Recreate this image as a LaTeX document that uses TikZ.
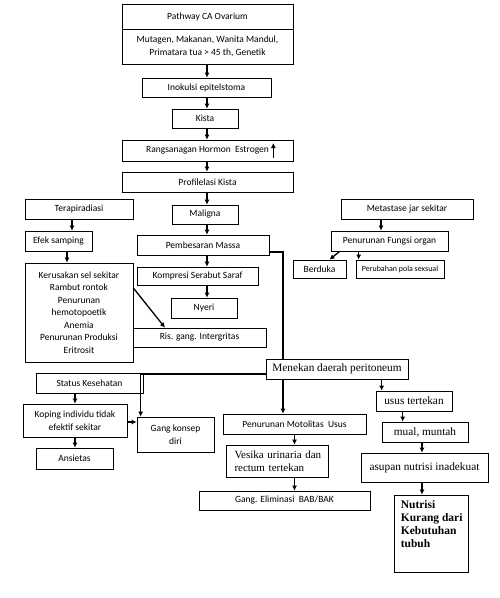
\documentclass[tikz,border=0pt]{standalone}
\usepackage{fontspec}
\setmainfont{Liberation Serif}
\setsansfont{Carlito}
\usetikzlibrary{arrows.meta}

\begin{document}
\begin{tikzpicture}[x=1pt,y=-1pt,
        box/.style={draw, fill=white, line width=0.7pt, inner sep=1pt, align=center,
            font=\fontsize{9.5}{12.5}\selectfont\sffamily},
        sbox/.style={box, font=\fontsize{11.3}{13}\selectfont\rmfamily},
        arr/.style={line width=1.3pt, -{Latex[length=5pt,width=5pt]}},
        link/.style={line width=1.3pt}]
        \useasboundingbox (0,0) rectangle (500,598);
        \coordinate (spine) at (207,0);

        % main column
        \node[box, minimum width=171, minimum height=25] (ttl) at (207.5,16.5) {Pathway CA Ovarium};
        \node[box, minimum width=171, minimum height=35] (cause) at (207.5,46.5)
            {Mutagen, Makanan, Wanita Mandul,\\ Primatara tua > 45 th, Genetik};
        \node[box, minimum width=129, minimum height=19] (inok) at (206.5,87.5) {Inokulsi epitelstoma};
        \node[box, minimum width=66, minimum height=19] (kista) at (205,118.5) {Kista};
        \node[box, minimum width=171, minimum height=21] (rangs) at (207.5,150.5) {Rangsanagan Hormon~ Estrogen};
        \node[box, minimum width=171, minimum height=20] (prof) at (207.5,182) {Profilelasi Kista};
        \node[box, minimum width=66, minimum height=19] (maligna) at (205,214.5) {Maligna};
        \node[box, minimum width=132, minimum height=20] (pemb) at (203,245) {Pembesaran Massa};
        \node[box, minimum width=121, minimum height=18] (kompresi) at (197.5,276) {Kompresi Serabut Saraf};
        \node[box, minimum width=66, minimum height=20] (nyeri) at (204,308) {Nyeri};
        \node[box, minimum width=133, minimum height=19] (ris) at (199.5,337.5) {Ris. gang. Intergritas};

        % left column
        \node[box, minimum width=108, minimum height=20] (terapi) at (79,209) {Terapiradiasi};
        \node[box, minimum width=67, minimum height=20] (efek) at (58.5,241) {Efek samping};
        \node[box, minimum width=108, minimum height=99] (kerusakan) at (79,312.5)
            {Kerusakan sel sekitar\\ Rambut rontok\\ Penurunan\\ hemotopoetik\\ Anemia\\
             Penurunan Produksi\\ Eritrosit};
        \node[box, minimum width=107, minimum height=20] (status) at (89.5,383) {Status Kesehatan};
        \node[box, minimum width=104, minimum height=33] (koping) at (75,420.5) {Koping individu tidak\\ efektif sekitar};
        \node[box, minimum width=77, minimum height=21] (ansietas) at (74.5,458.5) {Ansietas};
        \node[box, minimum width=77, minimum height=35] (konsep) at (175.5,434.5) {Gang konsep\\ diri};

        % right column
        \node[box, minimum width=132, minimum height=20] (metastase) at (407,209) {Metastase jar sekitar};
        \node[box, minimum width=117, minimum height=20] (fungsi) at (389.5,241) {Penurunan Fungsi organ};
        \node[box, minimum width=53, minimum height=18] (berduka) at (319.5,269) {Berduka};
        \node[box, minimum width=88, minimum height=18, font=\fontsize{8}{10}\selectfont\sffamily] (perubahan) at (400,269)
            {Perubahan pola sexsual};
        \node[sbox, minimum width=142, minimum height=20] (menekan) at (337,369) {Menekan daerah peritoneum};
        \node[sbox, minimum width=76, minimum height=20] (usus) at (414,401) {usus tertekan};
        \node[box, minimum width=143, minimum height=20] (motilitas) at (294.5,424) {Penurunan Motolitas~ Usus};
        \node[sbox, minimum width=86, minimum height=20] (mual) at (425,432) {mual, muntah};
        \node[sbox, minimum width=102, minimum height=32, text width=97, align=left,
            font=\fontsize{11}{12.5}\selectfont\rmfamily] (vesika) at (277,461)
            {\hspace*{6pt}Vesika urinaria dan\\ \hspace*{6pt}rectum tertekan};
        \node[sbox, minimum width=127, minimum height=29] (asupan) at (424.5,467.5) {asupan nutrisi inadekuat};
        \node[box, minimum width=171, minimum height=19] (eliminasi) at (284.5,500.5) {Gang. Eliminasi~ BAB/BAK};
        \node[box, minimum width=74, minimum height=77] (nutrisi) at (431,533.5) {};
        \node[anchor=north west, align=left, inner sep=0pt, font=\fontsize{11.5}{13}\selectfont\rmfamily\bfseries]
            (nutrisitxt) at ([xshift=7pt,yshift=-6pt]nutrisi.north west)
            {Nutrisi\\ Kurang dari\\ Kebutuhan\\ tubuh};

        % arrows
        \foreach \a/\b in {cause/inok, inok/kista, kista/rangs, rangs/prof, prof/maligna,
                maligna/pemb, pemb/kompresi, kompresi/nyeri}
            \draw[arr] (\a.south -| spine) -- (\b.north -| spine);
        \draw[arr, line width=1pt] ([xshift=-20pt,yshift=-7.5pt]rangs.east) -- ++(0,-15);

        \draw[arr] ([xshift=-7pt]terapi.south) -- ([xshift=-7pt]terapi.south |- efek.north);
        \draw[arr] ([xshift=8.5pt]efek.south) -- ([xshift=8.5pt]efek.south |- kerusakan.north);
        \draw[arr] ([yshift=24.5pt]kerusakan.east) -- ([xshift=-34.5pt]ris.north);

        \draw[arr] ([xshift=-8.5pt]fungsi.north |- metastase.south) -- ([xshift=-8.5pt]fungsi.north);
        \draw[arr] ([xshift=9pt]fungsi.south west) -- ([xshift=10pt]berduka.north);
        \draw[arr] ([xshift=3pt]perubahan.north west |- fungsi.south) -- ([xshift=3pt]perubahan.north west);

        \draw[link] ([yshift=-7pt]pemb.east) -| ([xshift=-54pt]menekan.north);
        \draw[arr] ([xshift=-54pt]menekan.south) -- ([xshift=-54pt]menekan.south |- motilitas.north);
        \draw[arr] ([yshift=-5pt]menekan.west) -| ([xshift=4pt]konsep.north west);
        \draw[arr] (koping.north |- status.south) -- (koping.north);
        \draw[arr] (koping.south) -- (koping.south |- ansietas.north);
        \draw[arr] ([yshift=-1.5pt]koping.east) -- ([yshift=-1.5pt]koping.east -| konsep.west);

        \draw[arr] ([xshift=6pt]usus.north west |- menekan.south) -- ([xshift=6pt]usus.north west);
        \draw[arr] ([xshift=21pt]mual.north west |- usus.south) -- ([xshift=21pt]mual.north west);
        \draw[arr] ([xshift=-3pt]mual.south) -- ([xshift=-3pt]mual.south |- asupan.north);
        \draw[arr] ([xshift=-2.5pt]asupan.south) -- ([xshift=-2.5pt]asupan.south |- nutrisi.north);
        \draw[arr] (motilitas.south) -- (motilitas.south |- vesika.north);
        \draw[arr] (motilitas.south |- vesika.south) -- (motilitas.south |- eliminasi.north);
\end{tikzpicture}
\end{document}
